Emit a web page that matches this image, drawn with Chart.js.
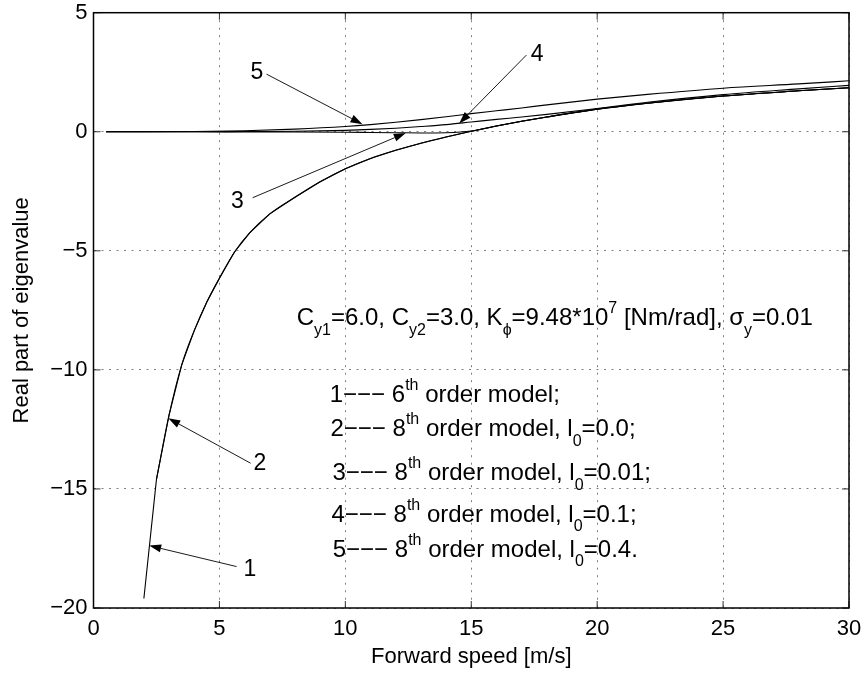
<!DOCTYPE html>
<html>
<head>
<meta charset="utf-8">
<script src="https://cdn.jsdelivr.net/npm/chart.js@4.4.0/dist/chart.umd.min.js"></script>
<style>
  html, body { margin: 0; padding: 0; background: #fff; }
  #wrap { width: 865px; height: 690px; }
</style>
</head>
<body>
<div id="wrap"><canvas id="chart" width="865" height="690"></canvas></div>
<script>
// curves 1 and 2 (6th order, 8th order l0=0.0)
const speed1 = [2.0, 2.5, 3.0, 3.5, 4.0, 4.5, 5.0, 5.6, 6.2, 7, 8, 9, 10, 11, 12, 13, 14, 15, 16, 17, 18, 20, 22, 25, 28, 30];
const real1 = [-19.6, -14.6, -11.9, -9.8, -8.35, -7.15, -6.15, -5.05, -4.25, -3.45, -2.75, -2.1, -1.55, -1.12, -0.78, -0.48, -0.22, 0.02, 0.24, 0.44, 0.62, 0.95, 1.2, 1.5, 1.72, 1.85];
const speed2 = [2.5, 3.0, 3.5, 4.0, 4.5, 5.0, 5.6, 6.2, 7, 8, 9, 10, 11, 12, 13, 14, 15, 16, 17, 18, 20, 22, 25, 28, 30];
const real2 = [-14.6, -11.9, -9.8, -8.35, -7.15, -6.15, -5.05, -4.25, -3.45, -2.75, -2.1, -1.55, -1.12, -0.78, -0.48, -0.22, 0.02, 0.24, 0.44, 0.62, 0.95, 1.2, 1.5, 1.72, 1.85];
// curve 3 (l0=0.01)
const speed3 = [0.5, 2, 4, 6, 8, 10, 11, 12, 13, 14, 15, 16, 17, 18, 20, 22, 25, 28, 30];
const real3 = [0, 0, 0, -0.005, -0.01, -0.02, -0.03, -0.04, -0.05, -0.04, 0.03, 0.24, 0.44, 0.62, 0.95, 1.2, 1.5, 1.72, 1.85];
// curve 4 (l0=0.1)
const speed4 = [0.5, 2, 4, 6, 8, 10, 11, 12, 13, 14, 15, 16, 17, 18, 20, 22, 25, 28, 30];
const real4 = [0, 0, 0, 0.01, 0.02, 0.06, 0.1, 0.15, 0.22, 0.3, 0.41, 0.52, 0.62, 0.73, 0.98, 1.24, 1.56, 1.8, 1.95];
// curve 5 (l0=0.4)
const speed5 = [0.5, 2, 4, 6, 8, 10, 11, 12, 13, 14, 15, 16, 17, 18, 20, 22, 25, 28, 30];
const real5 = [0, 0, 0.01, 0.04, 0.11, 0.22, 0.3, 0.4, 0.51, 0.63, 0.76, 0.88, 1.0, 1.13, 1.37, 1.57, 1.83, 2.01, 2.14];

const xTicks = [0, 5, 10, 15, 20, 25, 30];
const yTicks = [-20, -15, -10, -5, 0, 5];

// numbered arrows
const arrowLabels = ['1', '2', '3', '4', '5'];
const labelX = [6.21, 6.61, 5.71, 17.62, 6.49];
const labelY = [-18.41, -13.93, -2.94, 3.22, 2.50];
const arrowFromX = [5.68, 6.24, 6.32, 17.19, 6.87];
const arrowFromY = [-18.26, -13.92, -2.77, 3.22, 2.42];
const arrowToX = [2.21, 2.97, 12.40, 14.52, 10.68];
const arrowToY = [-17.38, -12.03, -0.05, 0.35, 0.32];

// annotation text, [text, kind] pieces
const notes = [
  [['C'], ['y1', 'sub'], ['=6.0, C'], ['y2', 'sub'], ['=3.0, K'], ['\u03d5', 'sub'], ['=9.48*10'], ['7', 'sup'], [' [Nm/rad], \u03c3'], ['y', 'sub'], ['=0.01']],
  [['1\u2212\u2212\u2212 6'], ['th', 'sup'], [' order model;']],
  [['2\u2212\u2212\u2212 8'], ['th', 'sup'], [' order model, l'], ['0', 'sub'], ['=0.0;']],
  [['3\u2212\u2212\u2212 8'], ['th', 'sup'], [' order model, l'], ['0', 'sub'], ['=0.01;']],
  [['4\u2212\u2212\u2212 8'], ['th', 'sup'], [' order model, l'], ['0', 'sub'], ['=0.1;']],
  [['5\u2212\u2212\u2212 8'], ['th', 'sup'], [' order model, l'], ['0', 'sub'], ['=0.4.']]
];
const noteX = [8.07, 9.38, 9.41, 9.49, 9.45, 9.50];
const noteY = [-8.12, -11.34, -12.78, -14.63, -16.37, -17.84];

const FONT = '"Liberation Sans", Arial, Helvetica, sans-serif';

function pts(xs, ys) {
  return xs.map((x, i) => ({ x: x, y: ys[i] }));
}

function drawRich(ctx, pieces, px, py, size) {
  let cx = px;
  pieces.forEach(([t, kind]) => {
    const fs = kind ? Math.round(size * 0.68) : size;
    ctx.font = fs + 'px ' + FONT;
    let dy = 0;
    if (kind === 'sub') dy = size * 0.4;
    if (kind === 'sup') dy = -size * 0.5;
    ctx.fillText(t, cx, py + dy);
    cx += ctx.measureText(t).width;
  });
}

const overlay = {
  id: 'overlay',
  afterDraw(chart) {
    const { ctx, chartArea: a } = chart;
    const x = chart.scales.x, y = chart.scales.y;
    ctx.save();

    // inner tick marks
    ctx.strokeStyle = '#333';
    ctx.lineWidth = 1;
    ctx.beginPath();
    xTicks.forEach(v => {
      const px = x.getPixelForValue(v);
      ctx.moveTo(px, a.bottom); ctx.lineTo(px, a.bottom - 7);
      ctx.moveTo(px, a.top); ctx.lineTo(px, a.top + 7);
    });
    yTicks.forEach(v => {
      const py = y.getPixelForValue(v);
      ctx.moveTo(a.left, py); ctx.lineTo(a.left + 7, py);
      ctx.moveTo(a.right, py); ctx.lineTo(a.right - 7, py);
    });
    ctx.stroke();

    // axes box
    ctx.strokeStyle = '#000';
    ctx.lineWidth = 1.5;
    ctx.strokeRect(a.left, a.top, a.right - a.left, a.bottom - a.top);

    // arrows
    ctx.fillStyle = '#000';
    ctx.strokeStyle = '#000';
    arrowLabels.forEach((lab, i) => {
      const x0 = x.getPixelForValue(arrowFromX[i]), y0 = y.getPixelForValue(arrowFromY[i]);
      const x1 = x.getPixelForValue(arrowToX[i]), y1 = y.getPixelForValue(arrowToY[i]);
      const ang = Math.atan2(y1 - y0, x1 - x0);
      const hl = 12, hw = 4;
      const bx = x1 - hl * Math.cos(ang), by = y1 - hl * Math.sin(ang);
      ctx.lineWidth = 0.9;
      ctx.beginPath();
      ctx.moveTo(x0, y0); ctx.lineTo(bx, by);
      ctx.stroke();
      ctx.beginPath();
      ctx.moveTo(x1, y1);
      ctx.lineTo(bx + hw * Math.sin(ang), by - hw * Math.cos(ang));
      ctx.lineTo(bx - hw * Math.sin(ang), by + hw * Math.cos(ang));
      ctx.closePath();
      ctx.fill();

      ctx.font = '23px ' + FONT;
      ctx.textAlign = 'center';
      ctx.textBaseline = 'middle';
      ctx.fillText(lab, x.getPixelForValue(labelX[i]), y.getPixelForValue(labelY[i]));
    });

    // parameter text
    ctx.textAlign = 'left';
    ctx.textBaseline = 'alphabetic';
    notes.forEach((pieces, i) => {
      drawRich(ctx, pieces, x.getPixelForValue(noteX[i]), y.getPixelForValue(noteY[i]), 24);
    });

    ctx.restore();
  }
};

const lineStyle = {
  borderColor: '#000',
  borderWidth: 1.1,
  pointRadius: 0,
  fill: false,
  tension: 0
};
const smoothStyle = Object.assign({}, lineStyle, { cubicInterpolationMode: 'monotone' });

new Chart(document.getElementById('chart'), {
  type: 'line',
  data: {
    datasets: [
      Object.assign({ label: '6th order model', data: pts(speed1, real1) }, lineStyle),
      Object.assign({ label: '8th order model, l0=0.0', data: pts(speed2, real2) }, smoothStyle),
      Object.assign({ label: '8th order model, l0=0.01', data: pts(speed3, real3) }, smoothStyle),
      Object.assign({ label: '8th order model, l0=0.1', data: pts(speed4, real4) }, smoothStyle),
      Object.assign({ label: '8th order model, l0=0.4', data: pts(speed5, real5) }, smoothStyle)
    ]
  },
  options: {
    responsive: false,
    animation: false,
    layout: { padding: { left: 0, right: 16, top: 12.7, bottom: 20 } },
    plugins: {
      legend: { display: false },
      tooltip: { enabled: false }
    },
    scales: {
      x: {
        type: 'linear',
        min: 0,
        max: 30,
        afterFit: (scale) => {
          scale.height = 62;
          scale.paddingLeft = 0;
          scale.paddingRight = 0;
        },
        ticks: {
          stepSize: 5,
          color: '#000',
          padding: 8,
          maxRotation: 0,
          font: { family: FONT, size: 22 }
        },
        grid: { color: 'rgba(0,0,0,0.5)', lineWidth: 1, drawTicks: false },
        border: { display: false, dash: [2, 5.5] },
        title: {
          display: true,
          text: 'Forward speed [m/s]',
          color: '#000',
          font: { family: FONT, size: 22 },
          padding: { top: 0, bottom: 0 }
        }
      },
      y: {
        min: -20,
        max: 5,
        afterFit: (scale) => {
          scale.width = 93.5;
          scale.paddingTop = 0;
          scale.paddingBottom = 0;
        },
        ticks: {
          stepSize: 5,
          color: '#000',
          padding: 6,
          font: { family: FONT, size: 22 },
          callback: (v) => (v < 0 ? '\u2212' + Math.abs(v) : String(v))
        },
        grid: { color: 'rgba(0,0,0,0.5)', lineWidth: 1, drawTicks: false },
        border: { display: false, dash: [2, 5.5] },
        title: {
          display: true,
          text: 'Real part of eigenvalue',
          color: '#000',
          font: { family: FONT, size: 22 },
          padding: { top: 9, bottom: 0 }
        }
      }
    }
  },
  plugins: [overlay]
});
</script>
</body>
</html>
